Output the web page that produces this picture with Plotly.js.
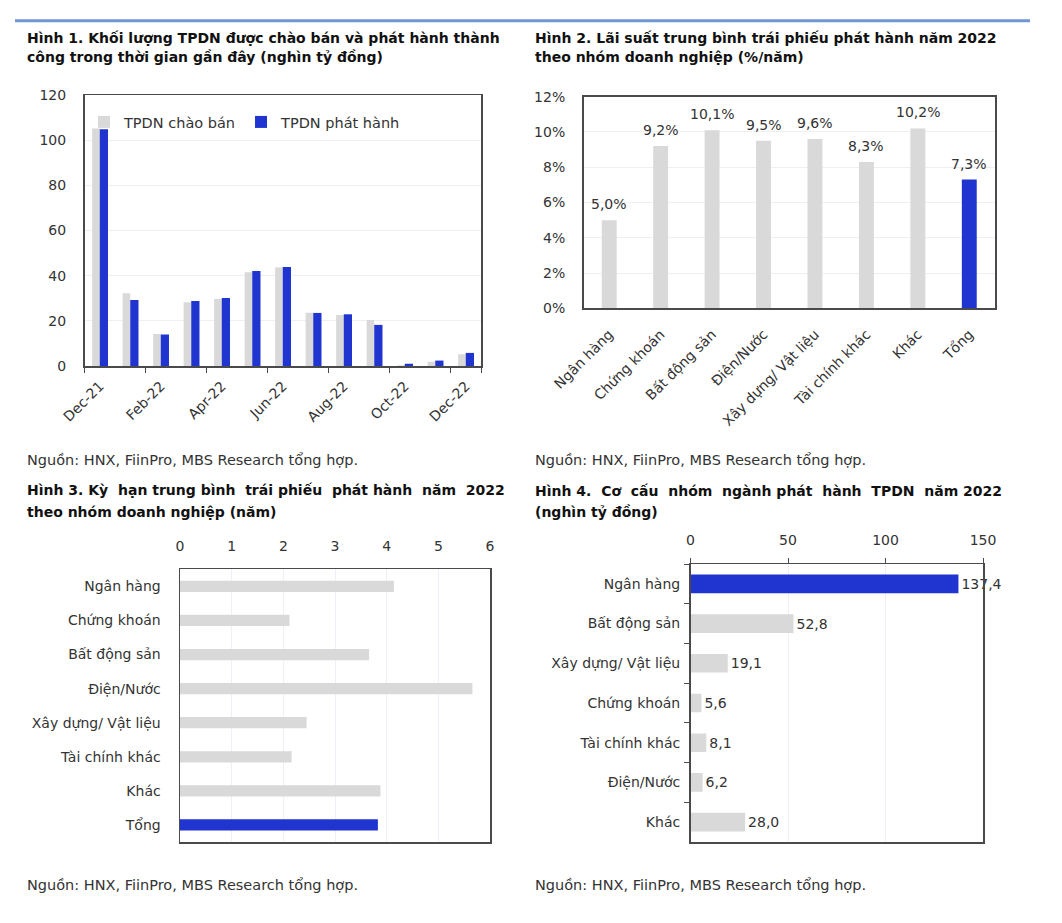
<!DOCTYPE html>
<html><head><meta charset="utf-8">
<script src="https://cdn.plot.ly/plotly-3.0.1.min.js"></script>
<style>body{margin:0;background:#fff}#chart{width:1062px;height:923px}</style>
</head><body><div id="chart"></div>
<script>
// ---- Data ----
const months = ['Dec-21','Jan-22','Feb-22','Mar-22','Apr-22','May-22','Jun-22','Jul-22','Aug-22','Sep-22','Oct-22','Nov-22','Dec-22'];
const offered = [105.2,32.2,14.2,28.2,29.7,41.5,43.7,23.6,22.6,20.4,0.3,1.9,5.2];
const issued  = [104.8,29.2,14.0,28.8,30.1,42.1,43.8,23.5,22.9,18.2,1.0,2.4,5.8];
const monthTicks = ['Dec-21','Feb-22','Apr-22','Jun-22','Aug-22','Oct-22','Dec-22'];

const rateGroups = ['Ngân hàng','Chứng khoán','Bất động sản','Điện/Nước','Xây dựng/ Vật liệu','Tài chính khác','Khác','Tổng'];
const rates = [5.0,9.2,10.1,9.5,9.6,8.3,10.2,7.3];

const tenorGroups = ['Ngân hàng','Chứng khoán','Bất động sản','Điện/Nước','Xây dựng/ Vật liệu','Tài chính khác','Khác','Tổng'];
const tenors = [4.14,2.12,3.66,5.66,2.45,2.16,3.88,3.83];

const issueGroups = ['Ngân hàng','Bất động sản','Xây dựng/ Vật liệu','Chứng khoán','Tài chính khác','Điện/Nước','Khác'];
const issueVolumes = [137.4,52.8,19.1,5.6,8.1,6.2,28.0];

// ---- Styles ----
const GRAY = '#d9d9d9', BLUE = '#2035d0';
const FONT = 'DejaVu Sans';
const TXT = '#333333';
const W = 1062, H = 923;
const px = v => v / W, py = v => 1 - v / H;
const fmt = v => v.toFixed(1).replace('.', ',');
const NB = '\u00a0';

const traces = [
  {type:'bar', name:'TPDN chào bán', x:months, y:offered, xaxis:'x', yaxis:'y',
   marker:{color:GRAY}, offset:-0.25, width:0.25},
  {type:'bar', name:'TPDN phát hành', x:months, y:issued, xaxis:'x', yaxis:'y',
   marker:{color:BLUE}, offset:0, width:0.27},
  {type:'bar', x:rateGroups, y:rates, xaxis:'x2', yaxis:'y2', showlegend:false,
   marker:{color:rateGroups.map(g => g === 'Tổng' ? BLUE : GRAY)}, width:0.29},
  {type:'bar', orientation:'h', y:tenorGroups, x:tenors, xaxis:'x3', yaxis:'y3', showlegend:false,
   marker:{color:tenorGroups.map(g => g === 'Tổng' ? BLUE : GRAY)}, width:0.33},
  {type:'bar', orientation:'h', y:issueGroups, x:issueVolumes, xaxis:'x4', yaxis:'y4', showlegend:false,
   marker:{color:issueGroups.map(g => g === 'Ngân hàng' ? BLUE : GRAY)}, width:0.47,
   text:issueVolumes.map(fmt), textposition:'outside', cliponaxis:false, constraintext:'none',
   textfont:{family:FONT, size:14, color:TXT}}
];

const frame = {showline:true, mirror:true, linecolor:'#4a4a4a', linewidth:1.5, zeroline:false};
const tf = {family:FONT, size:14, color:TXT};

const annotations = [];
function addText(text, x, y, size, bold) {
  annotations.push({xref:'paper', yref:'paper', x:px(x), y:py(y), xanchor:'left', yanchor:'middle',
    showarrow:false, text: bold ? '<b>' + text + '</b>' : text,
    font:{family:FONT, size:size, color: bold ? '#111' : TXT}});
}
addText('Hình 1. Khối lượng TPDN được chào bán và phát hành thành', 25, 38, 14, true);
addText('công trong thời gian gần đây (nghìn tỷ đồng)', 25, 57, 14, true);
addText('Hình 2. Lãi suất trung bình trái phiếu phát hành năm 2022', 533, 38, 14, true);
addText('theo nhóm doanh nghiệp (%/năm)', 533, 57, 14, true);
addText('Hình 3. Kỳ' + NB + ' hạn trung bình' + NB + ' trái phiếu' + NB + ' phát hành' + NB + ' năm' + NB + ' 2022', 25, 490, 14, true);
addText('theo nhóm doanh nghiệp (năm)', 25, 512, 14, true);
addText('Hình 4.' + NB + ' Cơ' + NB + ' cấu' + NB + ' nhóm' + NB + ' ngành phát' + NB + ' hành' + NB + ' TPDN' + NB + ' năm 2022', 533, 491, 14, true);
addText('(nghìn tỷ đồng)', 533, 512, 14, true);
addText('Nguồn: HNX, FiinPro, MBS Research tổng hợp.', 25, 460, 14.5, false);
addText('Nguồn: HNX, FiinPro, MBS Research tổng hợp.', 533, 460, 14.5, false);
addText('Nguồn: HNX, FiinPro, MBS Research tổng hợp.', 25, 885, 14.5, false);
addText('Nguồn: HNX, FiinPro, MBS Research tổng hợp.', 533, 885, 14.5, false);

rateGroups.forEach((g, i) => annotations.push({
  xref:'x2', yref:'y2', x:g, y:rates[i], text:fmt(rates[i]) + '%', showarrow:false,
  yanchor:'bottom', yshift:6, font:tf
}));

const layout = {
  width:W, height:H, autosize:false, margin:{l:0,r:0,t:0,b:0},
  paper_bgcolor:'#fff', plot_bgcolor:'#fff', barmode:'overlay',
  font:{family:FONT, size:14, color:TXT},
  showlegend:true,
  legend:{orientation:'h', x:px(84), y:py(122), xanchor:'left', yanchor:'middle',
    bgcolor:'rgba(0,0,0,0)', font:{family:FONT, size:14.5, color:TXT}, traceorder:'normal'},
  xaxis:Object.assign({}, frame, {domain:[px(84.5), px(481)], anchor:'y', type:'category',
    categoryarray:months, tickvals:monthTicks, tickson:'boundaries', ticks:'outside', ticklen:5,
    tickcolor:'#4a4a4a', tickangle:-45, showgrid:false, tickfont:tf, ticklabelstandoff:5,
    range:[-0.5, 12.5]}),
  yaxis:Object.assign({}, frame, {domain:[py(366), py(95)], anchor:'x', range:[0,120], dtick:20,
    showgrid:true, gridcolor:'#efefef', ticks:'', tickfont:tf, ticklabelstandoff:14}),
  xaxis2:Object.assign({}, frame, {domain:[px(583.5), px(995)], anchor:'y2', type:'category',
    categoryarray:rateGroups, ticks:'', tickangle:-45, showgrid:false, tickfont:tf, ticklabelstandoff:11}),
  yaxis2:Object.assign({}, frame, {domain:[py(308.3), py(96.7)], anchor:'x2', range:[0,12], dtick:2,
    ticksuffix:'%', showgrid:true, gridcolor:'#efefef', ticks:'', tickfont:tf, ticklabelstandoff:14}),
  xaxis3:Object.assign({}, frame, {domain:[px(180), px(490)], anchor:'y3', side:'top', range:[0,6], dtick:1,
    showgrid:true, gridcolor:'#eef0f8', ticks:'', tickfont:tf, ticklabelstandoff:11}),
  yaxis3:Object.assign({}, frame, {domain:[py(842), py(569.3)], anchor:'x3', type:'category',
    categoryarray:tenorGroups, autorange:'reversed', showgrid:false, ticks:'', tickfont:tf, ticklabelstandoff:15}),
  xaxis4:Object.assign({}, frame, {domain:[px(690.5), px(983)], anchor:'y4', side:'top', range:[0,150], dtick:50,
    showgrid:true, gridcolor:'#eef0f8', ticks:'outside', ticklen:5, tickcolor:'#4a4a4a', tickfont:tf, ticklabelstandoff:7}),
  yaxis4:Object.assign({}, frame, {domain:[py(842), py(564)], anchor:'x4', type:'category',
    categoryarray:issueGroups, autorange:'reversed', showgrid:false, ticks:'outside', ticklen:5,
    tickcolor:'#4a4a4a', tickson:'boundaries', tickfont:tf, ticklabelstandoff:6}),
  annotations:annotations,
  shapes:[{type:'line', xref:'paper', yref:'paper', x0:px(15), x1:px(1030), y0:py(20.7), y1:py(20.7),
    line:{color:'#6f97d4', width:3}}]
};

Plotly.newPlot('chart', traces, layout, {staticPlot:true});
</script></body></html>
